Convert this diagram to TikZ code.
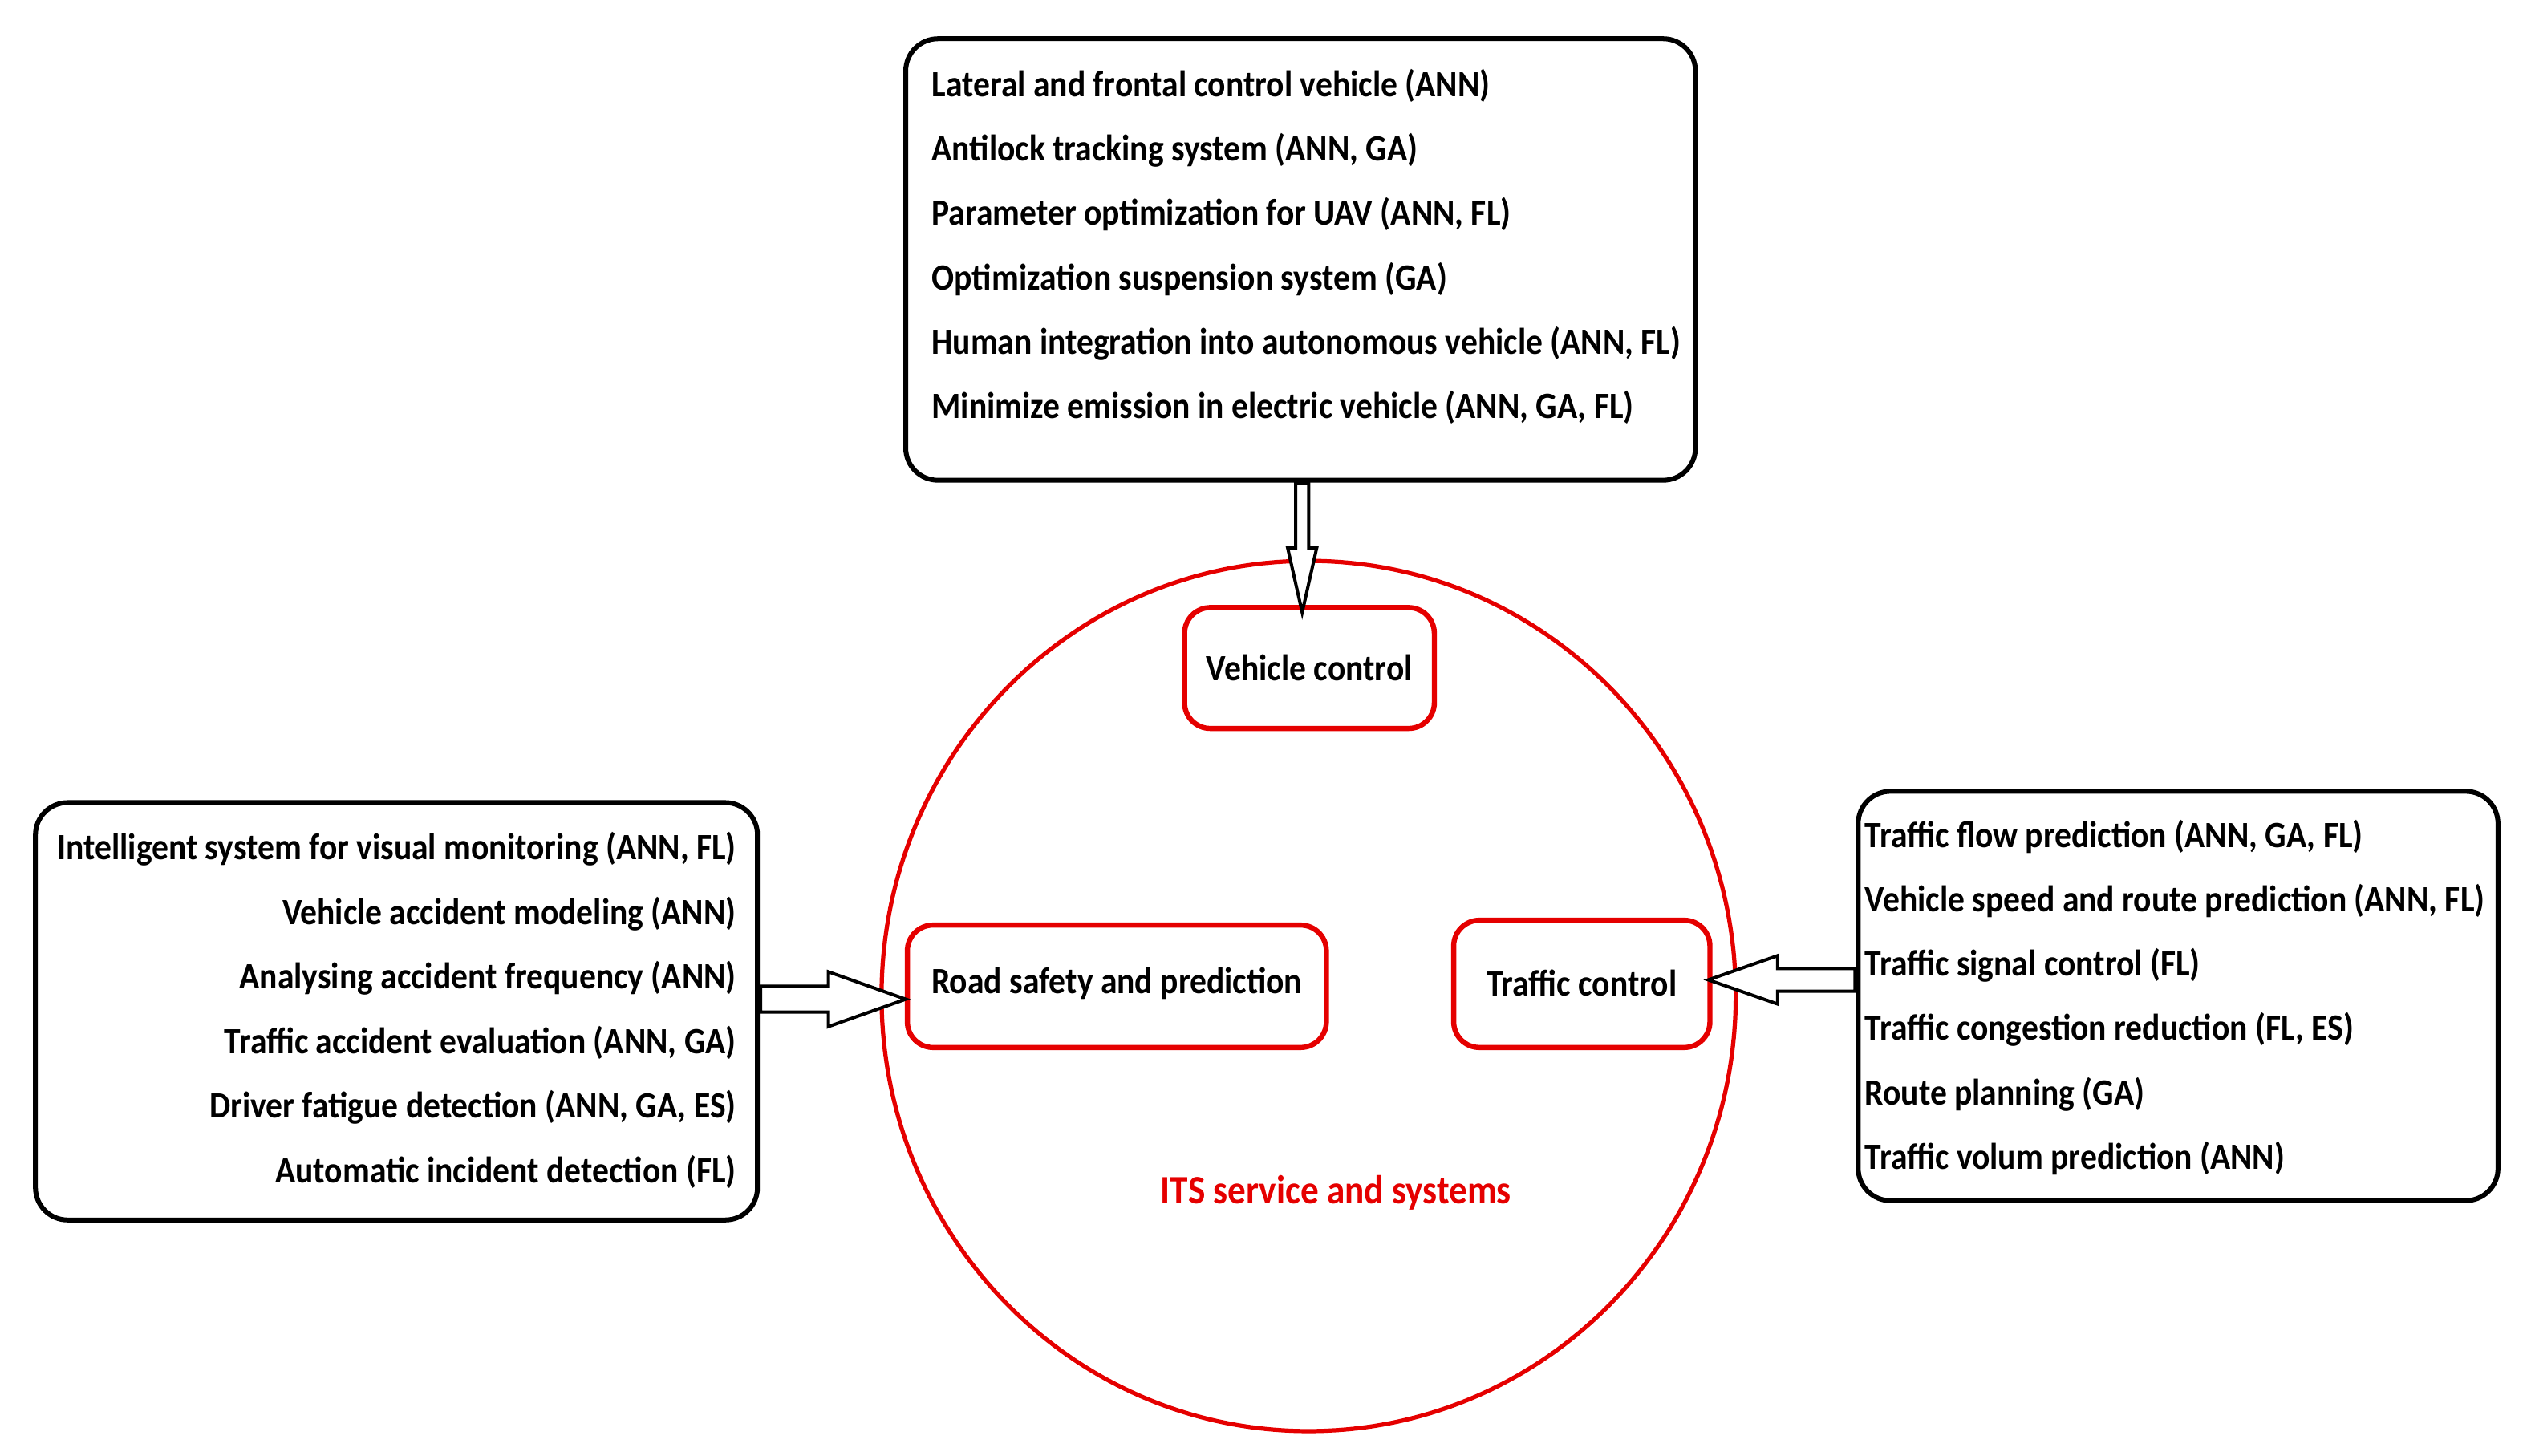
\documentclass[tikz,border=0pt]{standalone}
\usepackage{fontspec}
\setmainfont{Carlito}[BoldFeatures={FakeStretch=0.9}]
\usetikzlibrary{calc}
\begin{document}
\begin{tikzpicture}[x=1pt,y=-1pt,
  bbox/.style={draw=black,line width=3pt,rounded corners=20pt},
  rbox/.style={draw=red!90!black,line width=3.2pt,rounded corners=16pt},
  t/.style={font=\fontsize{23}{26}\selectfont\bfseries,inner sep=0pt},
  harrow/.style={draw=black,line width=2pt,fill=white,line join=miter}]
\useasboundingbox (0,0) rectangle (1568,903);
% boxes
\draw[bbox] (562,24) rectangle (1052,298);
\coordinate (topb) at (808,298);
\draw[bbox] (22,498) rectangle (470,757);
\coordinate (leftb) at (470,620);
\draw[bbox] (1153,491) rectangle (1550,745);
\coordinate (rightb) at (1153,608);
\foreach \s [count=\i from 0] in {Lateral and frontal control vehicle (ANN),Antilock tracking system (ANN{,} GA),Parameter optimization for UAV (ANN{,} FL),Optimization suspension system (GA),Human integration into autonomous vehicle (ANN{,} FL),Minimize emission in electric vehicle (ANN{,} GA{,} FL)}
  \node[t,anchor=west] (tl\i) at (578,53+40*\i) {\s};
\foreach \s [count=\i from 0] in {Intelligent system for visual monitoring (ANN{,} FL),Vehicle accident modeling (ANN),Analysing accident frequency (ANN),Traffic accident evaluation (ANN{,} GA),Driver fatigue detection (ANN{,} GA{,} ES),Automatic incident detection (FL)}
  \node[t,anchor=east] (ll\i) at (457,527+40*\i) {\s};
\foreach \s [count=\i from 0] in {Traffic flow prediction (ANN{,} GA{,} FL),Vehicle speed and route prediction (ANN{,} FL),Traffic signal control (FL),Traffic congestion reduction (FL{,} ES),Route planning (GA),Traffic volum prediction (ANN)}
  \node[t,anchor=west] (rl\i) at (1157,519+40*\i) {\s};
% circle
\draw[red!90!black,line width=2.6pt] (812,618) ellipse [x radius=265,y radius=270];
\node[t,text=red!90!black,font=\fontsize{25}{28}\selectfont\bfseries] (its) at (829,740) {ITS service and systems};
\draw[rbox] (735,377) rectangle (890,452);
\node[t] (vc) at (812.5,414.5) {Vehicle control};
\draw[rbox] (563,574) rectangle (823,650);
\node[t] (rs) at (693,610) {Road safety and prediction};
\draw[rbox] (902,571) rectangle (1061,650);
\node[t] (tc) at (981.5,610) {Traffic control};
% hollow arrows
\draw[harrow] ($(topb)+(-4,2)$) -- ++(0,40) -- ++(-5,0) -- (808,380) -- ($(topb)+(9,42)$) -- ++(-5,0) -- ($(topb)+(4,2)$) -- cycle;
\draw[harrow] ($(leftb)+(2,-8)$) -- ++(42,0) -- ++(0,-9) -- (562,620) -- ($(leftb)+(44,17)$) -- ++(0,-9) -- ($(leftb)+(2,8)$) -- cycle;
\draw[harrow] ($(rightb)+(-2,-7)$) -- ++(-48,0) -- ++(0,-8) -- (1060,608) -- ($(rightb)+(-50,15)$) -- ++(0,-8) -- ($(rightb)+(-2,7)$) -- cycle;
\end{tikzpicture}
\end{document}
